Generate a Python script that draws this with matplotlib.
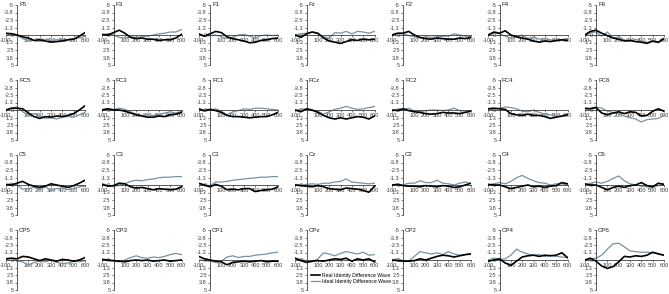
import matplotlib
matplotlib.use("Agg")
import matplotlib.pyplot as plt

plt.rcParams['font.family'] = ['Liberation Sans', 'DejaVu Sans']

# sample times (ms)
times = [-100, -50, 0, 50, 100, 150, 200, 250, 300, 350, 400, 450, 500, 550, 600]

ytick_vals = [-5, -3.75, -2.5, -1.25, 0, 1.25, 2.5, 3.75, 5]
ytick_labels = ['-5', '-3.8', '-2.5', '-1.3', '0', '1.3', '2.5', '3.8', '5']
xtick_vals = [-100, 100, 200, 300, 400, 500, 600]
xtick_labels = ['-100', '100', '200', '300', '400', '500', '600']

legend_labels = ['Real Identity Difference Wave', 'Ideal Identity Difference Wave']

# ---- row 1 ----
F5_real = [-0.3, -0.2, 0.0, 0.3, 0.5, 0.9, 0.8, 1.0, 1.2, 1.1, 1.0, 0.8, 0.7, 0.2, -0.4]
F5_ideal = [0.1, -0.3, 0.0, 0.6, 0.9, 0.9, 1.0, 0.7, 0.9, 0.8, 0.7, 0.8, 0.6, 0.5, 0.2]
F3_real = [-0.1, 0.0, -0.4, -0.8, -0.3, 0.4, 0.6, 0.5, 0.7, 0.7, 0.9, 0.8, 0.8, 0.5, -0.1]
F3_ideal = [0.0, -0.2, 0.0, 0.4, 0.5, 0.3, 0.4, 0.3, 0.2, 0.0, -0.2, -0.3, -0.5, -0.5, -0.9]
F1_real = [-0.2, 0.2, -0.2, -0.6, -0.4, 0.3, 0.6, 0.8, 1.0, 1.3, 1.2, 0.9, 0.8, 0.6, 0.5]
F1_ideal = [-0.1, 0.2, 0.1, 0.0, 0.3, 0.6, 0.4, 0.0, -0.1, 0.2, 0.5, 0.1, 0.0, 0.1, 0.0]
Fz_real = [0.0, 0.4, -0.2, -0.5, -0.3, 0.5, 1.0, 1.2, 1.4, 1.1, 0.8, 0.9, 0.7, 0.8, 0.7]
Fz_ideal = [0.0, -0.2, -0.3, -0.5, -0.2, 0.3, 0.5, -0.4, -0.3, -0.6, -0.2, -0.6, -0.5, -0.3, -0.6]
F2_real = [0.0, -0.3, -0.3, -0.6, 0.0, 0.4, 0.6, 0.7, 0.5, 0.6, 0.7, 0.7, 0.5, 0.6, 0.4]
F2_ideal = [0.0, -0.2, -0.2, 0.1, 0.3, 0.5, 0.3, 0.4, 0.3, 0.2, 0.2, -0.2, 0.0, 0.2, 0.3]
F4_real = [0.0, -0.5, -0.3, -0.7, 0.0, 0.3, 0.5, 0.7, 1.0, 1.2, 1.0, 1.1, 0.9, 0.8, 0.9]
F4_ideal = [0.0, -0.3, -0.2, 0.2, 0.5, 0.3, 0.0, 0.6, 0.3, 0.7, 0.6, 0.8, 1.0, 0.9, 0.6]
F6_real = [0.0, -0.6, -0.8, -0.3, 0.1, 0.5, 0.7, 1.0, 0.9, 1.1, 1.2, 1.4, 1.0, 1.2, 0.6]
F6_ideal = [0.3, -0.4, -0.5, 0.2, -0.5, 0.5, 0.3, 0.8, 1.0, 0.7, 1.0, 1.2, 1.1, 1.3, 0.8]

# ---- row 2 ----
FC5_real = [0.0, -0.3, -0.3, -0.2, 0.5, 1.1, 1.4, 1.1, 1.2, 1.0, 1.1, 0.9, 0.6, 0.0, -0.7]
FC5_ideal = [0.2, -0.3, -0.5, 0.3, 0.9, 0.6, 1.0, 1.4, 1.3, 1.5, 1.2, 1.1, 1.2, 0.8, 0.4]
FC3_real = [0.0, -0.2, 0.0, 0.0, 0.2, 0.5, 0.8, 1.0, 1.2, 1.2, 1.0, 1.1, 0.8, 0.7, 0.4]
FC3_ideal = [-0.1, -0.2, -0.1, -0.3, -0.1, 0.3, 0.7, 0.9, 0.8, 0.9, 0.8, 0.5, 0.3, 0.5, 0.2]
FC1_real = [-0.2, 0.1, -0.1, 0.1, 0.4, 0.9, 1.1, 1.1, 1.2, 1.3, 1.2, 1.1, 1.1, 0.8, 0.4]
FC1_ideal = [0.0, 0.2, 0.0, -0.2, 0.2, 0.8, 0.3, 0.1, -0.2, -0.1, -0.3, -0.3, -0.2, -0.1, 0.0]
FCz_real = [0.0, 0.3, -0.2, 0.0, 0.4, 0.9, 1.3, 1.5, 1.3, 1.5, 1.3, 1.1, 1.2, 1.5, 1.0]
FCz_ideal = [0.1, -0.2, -0.1, 0.1, 0.2, 0.7, 0.3, -0.1, -0.3, -0.6, -0.3, -0.1, -0.2, -0.4, -0.6]
FC2_real = [0.0, 0.1, -0.2, 0.1, 0.3, 0.4, 0.6, 0.7, 0.6, 0.4, 0.5, 0.5, 0.6, 0.4, 0.2]
FC2_ideal = [0.0, -0.1, -0.1, -0.3, 0.2, 0.3, 0.1, 0.0, 0.0, 0.1, 0.0, -0.3, 0.1, 0.2, 0.1]
FC4_real = [-0.2, -0.3, -0.2, -0.1, 0.6, 0.8, 0.9, 0.7, 0.9, 0.9, 1.1, 1.4, 1.2, 1.0, 0.8]
FC4_ideal = [0.0, -0.1, -0.3, -0.5, -0.4, -0.2, 0.2, 0.3, 0.0, 0.4, 0.7, 0.8, 1.0, 1.1, 0.6]
FC6_real = [-0.3, -0.2, -0.4, 0.5, 0.8, 0.5, 0.3, 0.6, 0.3, 0.4, 1.0, 0.9, 0.2, -0.2, 0.2]
FC6_ideal = [0.1, -0.3, -0.5, -0.3, 0.2, 0.4, 0.6, 1.0, 1.3, 1.5, 2.0, 1.6, 1.5, 1.4, 0.9]

# ---- row 3 ----
C5_real = [-0.1, 0.0, -0.3, -0.6, -0.1, 0.2, 0.4, 0.2, -0.2, 0.0, 0.2, 0.4, 0.1, -0.3, -0.8]
C5_ideal = [0.1, -0.3, 0.0, 0.7, 0.6, 0.4, 0.8, 0.3, 0.9, 0.6, 0.5, 0.8, 0.6, 0.3, 0.2]
C3_real = [-0.1, 0.2, 0.1, -0.3, -0.2, 0.3, 0.5, 0.4, 0.6, 0.8, 0.6, 0.7, 0.8, 0.7, 0.3]
C3_ideal = [-0.2, 0.0, 0.3, 0.0, -0.2, -0.6, -0.8, -0.7, -0.9, -1.0, -1.2, -1.3, -1.3, -1.4, -1.4]
C1_real = [-0.3, 0.0, 0.3, -0.1, 0.2, 0.8, 0.7, 0.8, 0.6, 0.6, 1.1, 0.9, 0.8, 0.7, 0.3]
C1_ideal = [-0.1, 0.0, 0.1, -0.5, -0.5, -0.6, -0.8, -0.9, -1.0, -1.1, -1.2, -1.3, -1.3, -1.4, -1.4]
Cz_real = [0.0, 0.1, 0.2, 0.3, 0.1, 0.3, 0.6, 0.7, 0.8, 0.5, 0.6, 0.7, 0.9, 1.2, 0.2]
Cz_ideal = [-0.1, 0.0, -0.1, -0.2, -0.1, -0.3, -0.3, -0.5, -0.6, -1.0, -0.5, -0.4, -0.3, -0.2, -0.3]
C2_real = [0.0, -0.1, 0.1, 0.2, 0.2, 0.3, 0.1, 0.2, 0.3, 0.1, 0.2, 0.4, 0.3, 0.0, -0.3]
C2_ideal = [0.0, -0.1, 0.0, -0.3, -0.3, -0.7, -0.4, -0.4, -0.8, -0.3, -0.2, 0.0, -0.3, -0.5, -0.2]
C4_real = [-0.1, 0.0, 0.0, 0.3, 0.6, 0.4, 0.2, 0.0, 0.3, 0.2, 0.4, 0.2, 0.1, -0.4, -0.2]
C4_ideal = [0.0, -0.2, -0.4, -0.2, -0.6, -1.2, -1.6, -1.1, -0.7, -0.4, -0.3, 0.0, -0.2, -0.2, 0.0]
C6_real = [-0.2, 0.0, 0.0, 0.4, 0.8, 0.4, 0.2, 0.4, 0.1, 0.0, -0.4, 0.1, 0.3, -0.3, -0.1]
C6_ideal = [0.0, -0.3, -0.5, -0.3, -0.6, -1.1, -1.5, -0.7, -0.2, 0.0, 0.2, 0.3, 0.4, 0.1, -0.2]

# ---- row 4 ----
CP5_real = [-0.2, -0.3, -0.2, -0.6, -0.5, -0.2, 0.1, -0.2, 0.0, 0.2, -0.1, 0.0, 0.2, 0.0, -0.4]
CP5_ideal = [0.0, -0.3, 0.2, 0.3, 0.9, 0.4, 0.2, 0.3, 0.0, 0.4, 0.6, 0.5, 0.2, 0.3, 0.1]
CP3_real = [-0.1, 0.0, 0.1, 0.2, 0.3, 0.1, 0.0, 0.1, 0.0, 0.2, 0.1, 0.0, 0.2, 0.1, 0.0]
CP3_ideal = [0.0, 0.1, 0.2, 0.3, 0.0, -0.4, -0.7, -0.4, -0.3, -0.5, -0.4, -0.6, -0.9, -1.1, -0.9]
CP1_real = [-0.6, -0.2, 0.0, 0.2, 0.3, 0.8, 0.4, 0.3, 0.2, 0.3, 0.2, 0.1, 0.3, 0.2, 0.2]
CP1_ideal = [0.0, 0.1, 0.2, 0.4, 0.2, -0.5, -0.7, -0.4, -0.6, -0.6, -0.8, -0.9, -1.0, -1.2, -1.3]
CPz_real = [-0.3, 0.1, 0.4, 0.2, 0.1, 0.2, 0.0, -0.2, -0.1, -0.3, 0.2, -0.2, 0.0, -0.2, 0.3]
CPz_ideal = [0.0, -0.2, 0.2, 0.3, -0.2, -1.2, -1.0, -0.7, -1.1, -1.4, -1.2, -1.0, -1.3, -0.8, -0.9]
CP2_real = [0.0, 0.1, 0.2, 0.2, 0.1, -0.2, 0.0, -0.3, -0.6, -0.8, -0.7, -0.5, -0.7, -0.9, -1.0]
CP2_ideal = [0.0, -0.2, 0.1, 0.2, -0.6, -1.4, -1.2, -1.0, -1.2, -0.9, -1.4, -1.0, -0.8, -0.9, -1.1]
CP4_real = [0.2, 0.0, -0.2, 0.5, 0.9, 0.2, -0.5, -0.7, -0.8, -0.6, -0.8, -0.7, -0.8, -1.2, -0.4]
CP4_ideal = [0.0, -0.3, -0.1, -0.2, -0.8, -1.8, -1.3, -1.0, -0.8, -0.9, -0.6, -0.8, -0.6, -0.5, -0.4]
CP6_real = [0.0, -0.3, 0.2, 1.0, 1.4, 1.1, 0.3, -0.6, -0.5, -0.7, -0.6, -0.8, -1.3, -1.0, -0.8]
CP6_ideal = [0.0, -0.2, -0.3, -0.8, -1.8, -2.7, -2.8, -2.2, -1.5, -1.4, -1.3, -1.3, -1.2, -1.1, -0.8]

panels = [
    ('F5', F5_real, F5_ideal), ('F3', F3_real, F3_ideal), ('F1', F1_real, F1_ideal),
    ('Fz', Fz_real, Fz_ideal), ('F2', F2_real, F2_ideal), ('F4', F4_real, F4_ideal),
    ('F6', F6_real, F6_ideal),
    ('FC5', FC5_real, FC5_ideal), ('FC3', FC3_real, FC3_ideal), ('FC1', FC1_real, FC1_ideal),
    ('FCz', FCz_real, FCz_ideal), ('FC2', FC2_real, FC2_ideal), ('FC4', FC4_real, FC4_ideal),
    ('FC6', FC6_real, FC6_ideal),
    ('C5', C5_real, C5_ideal), ('C3', C3_real, C3_ideal), ('C1', C1_real, C1_ideal),
    ('Cz', Cz_real, Cz_ideal), ('C2', C2_real, C2_ideal), ('C4', C4_real, C4_ideal),
    ('C6', C6_real, C6_ideal),
    ('CP5', CP5_real, CP5_ideal), ('CP3', CP3_real, CP3_ideal), ('CP1', CP1_real, CP1_ideal),
    ('CPz', CPz_real, CPz_ideal), ('CP2', CP2_real, CP2_ideal), ('CP4', CP4_real, CP4_ideal),
    ('CP6', CP6_real, CP6_ideal),
]

W, H = 669, 294
fig = plt.figure(figsize=(W / 100, H / 100), dpi=100)

ideal_col = '#7b919e'
axis_col = '#404040'
fs = 4.0

handles = None
for i, (name, real, ideal) in enumerate(panels):
    r, c = divmod(i, 7)
    # pixel positions of time 0 and of the top (-5) of each panel
    x0 = 17 + c * 96.5
    left = x0 - 11.3
    top = 5 + r * 75
    ax = fig.add_axes([left / W, 1 - (top + 60) / H, 79.3 / W, 60 / H])
    ax.patch.set_alpha(0)

    h1, = ax.plot(times, real, color='black', lw=1.2, zorder=3)
    h2, = ax.plot(times, ideal, color=ideal_col, lw=0.9, zorder=2)
    handles = [h1, h2]

    ax.set_xlim(-100, 600)
    ax.set_ylim(5, -5)
    ax.spines['left'].set_position(('data', 0))
    ax.spines['bottom'].set_position(('data', 0))
    ax.spines['top'].set_visible(False)
    ax.spines['right'].set_visible(False)
    for s in ('left', 'bottom'):
        ax.spines[s].set_color(axis_col)
        ax.spines[s].set_linewidth(0.6)

    ax.set_yticks(ytick_vals, ytick_labels)
    ax.set_xticks(xtick_vals, xtick_labels)
    ax.tick_params(axis='both', labelsize=fs, length=1.5, width=0.5,
                   pad=0.8, colors=axis_col)

    ax.text(18, -5, name, fontsize=fs + 0.4, ha='left', va='center', color='#202020')

fig.legend(handles, legend_labels, loc='upper left', bbox_to_anchor=(311 / W, 1 - 273 / H),
           frameon=False, fontsize=3.7, handlelength=1.8, handletextpad=0.3,
           labelspacing=0.25, borderpad=0, borderaxespad=0)

fig.savefig('out.png', dpi=100)
